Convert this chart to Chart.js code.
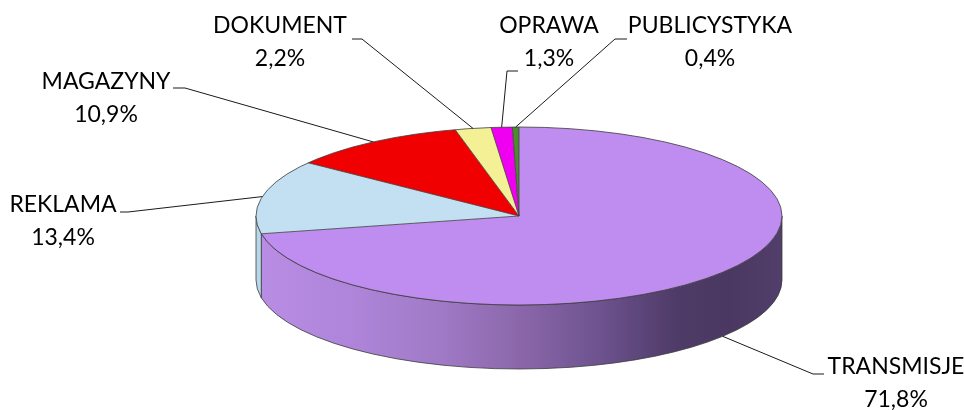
<!DOCTYPE html>
<html>
<head>
<meta charset="utf-8">
<script src="https://cdn.jsdelivr.net/npm/chart.js@4.4.1/dist/chart.umd.min.js"></script>
<style>
  html, body { margin: 0; padding: 0; background: #ffffff; }
  #wrap { width: 964px; height: 410px; position: relative; }
</style>
</head>
<body>
<div id="wrap"><canvas id="c"></canvas></div>
<script>
// ---- data ----
const categories = ['TRANSMISJE', 'REKLAMA', 'MAGAZYNY', 'DOKUMENT', 'OPRAWA', 'PUBLICYSTYKA'];
const shares = [71.8, 13.4, 10.9, 2.2, 1.3, 0.4];
const percentLabels = ['71,8%', '13,4%', '10,9%', '2,2%', '1,3%', '0,4%'];
const topColors = ['#BF8CF0', '#C2E0F2', '#F00000', '#F3F096', '#F000F0', '#4E8A30'];

// ---- layout (styles / positions) ----
const G = { cx: 519, cy: 216, rx: 263, ry: 89, depth: 64 };
const FONT = '23px Lato';
const LINE_GAP = 33;
// per-label: text centre x, first-line baseline, elbow point, end point, whether leader starts on side bottom
const labelLayout = [
  { tx: 896, by: 374, elbow: [813, 374], end: [824, 374], side: true },
  { tx: 63,  by: 212, elbow: [128, 212], end: [120, 212], side: false },
  { tx: 106, by: 89,  elbow: [185, 88],  end: [173, 88],  side: false },
  { tx: 280, by: 33,  elbow: [362, 39],  end: [352, 39],  side: false },
  { tx: 549, by: 33,  elbow: [507, 71],  end: [518, 71],  side: false },
  { tx: 710, by: 33,  elbow: [615, 39],  end: [627, 39],  side: false }
];

function sideFill(ctx, i) {
  if (i === 0) {
    const g = ctx.createLinearGradient(G.cx - G.rx, 0, G.cx + G.rx, 0);
    g.addColorStop(0.0, '#B98DE4');
    g.addColorStop(0.18, '#AE85DA');
    g.addColorStop(0.35, '#A07AC6');
    g.addColorStop(0.5, '#8B67AA');
    g.addColorStop(0.65, '#6E5390');
    g.addColorStop(0.8, '#4E3B67');
    g.addColorStop(0.9, '#4A3862');
    g.addColorStop(1.0, '#513E6A');
    return g;
  }
  if (i === 1) return '#B8D7E9';
  return topColors[i];
}

const pie3d = {
  id: 'pie3d',
  beforeDatasetsDraw(chart) {
    const ctx = chart.ctx;
    const meta = chart.getDatasetMeta(0);
    ctx.save();
    ctx.strokeStyle = '#3c3c3c';
    ctx.lineWidth = 0.8;
    meta.data.forEach((arc, i) => {
      const s = Math.max(arc.startAngle, 0);
      const e = Math.min(arc.endAngle, Math.PI);
      if (e <= s) return;
      ctx.beginPath();
      ctx.ellipse(G.cx, G.cy, G.rx, G.ry, 0, s, e, false);
      ctx.ellipse(G.cx, G.cy + G.depth, G.rx, G.ry, 0, e, s, true);
      ctx.closePath();
      ctx.fillStyle = sideFill(ctx, i);
      ctx.fill();
      ctx.stroke();
    });
    ctx.restore();
    // map the library's circular pie onto the ellipse top face
    const a0 = meta.data[0];
    ctx.save();
    ctx.translate(G.cx, G.cy);
    ctx.scale(G.rx / a0.outerRadius, G.ry / a0.outerRadius);
    ctx.translate(-a0.x, -a0.y);
  },
  afterDatasetsDraw(chart) {
    const ctx = chart.ctx;
    ctx.restore();
    const meta = chart.getDatasetMeta(0);
    ctx.save();
    ctx.strokeStyle = '#3c3c3c';
    ctx.lineWidth = 0.8;
    // top face outline
    ctx.beginPath();
    ctx.ellipse(G.cx, G.cy, G.rx, G.ry, 0, 0, Math.PI * 2);
    ctx.stroke();
    meta.data.forEach((arc) => {
      const a = arc.startAngle;
      ctx.beginPath();
      ctx.moveTo(G.cx, G.cy);
      ctx.lineTo(G.cx + G.rx * Math.cos(a), G.cy + G.ry * Math.sin(a));
      ctx.stroke();
    });
    ctx.restore();

    // labels with leader lines
    ctx.save();
    ctx.font = FONT;
    ctx.fillStyle = '#000000';
    ctx.textAlign = 'center';
    ctx.textBaseline = 'alphabetic';
    meta.data.forEach((arc, i) => {
      const L = labelLayout[i];
      const mid = (arc.startAngle + arc.endAngle) / 2;
      const px = G.cx + G.rx * Math.cos(mid);
      const py = G.cy + G.ry * Math.sin(mid) + (L.side ? G.depth : 0);
      ctx.beginPath();
      ctx.strokeStyle = '#1a1a1a';
      ctx.lineWidth = 1;
      ctx.moveTo(px, py);
      ctx.lineTo(L.elbow[0], L.elbow[1]);
      ctx.lineTo(L.end[0], L.end[1]);
      ctx.stroke();
      ctx.fillText(categories[i], L.tx, L.by);
      ctx.fillText(percentLabels[i], L.tx, L.by + LINE_GAP);
    });
    ctx.restore();
  }
};

new Chart(document.getElementById('c'), {
  type: 'pie',
  data: {
    labels: categories,
    datasets: [{
      data: shares,
      backgroundColor: topColors,
      borderWidth: 0
    }]
  },
  options: {
    responsive: true,
    maintainAspectRatio: false,
    animation: false,
    events: [],
    rotation: 0,
    layout: { padding: 0 },
    plugins: {
      legend: { display: false },
      tooltip: { enabled: false }
    }
  },
  plugins: [pie3d]
});
</script>
</body>
</html>
